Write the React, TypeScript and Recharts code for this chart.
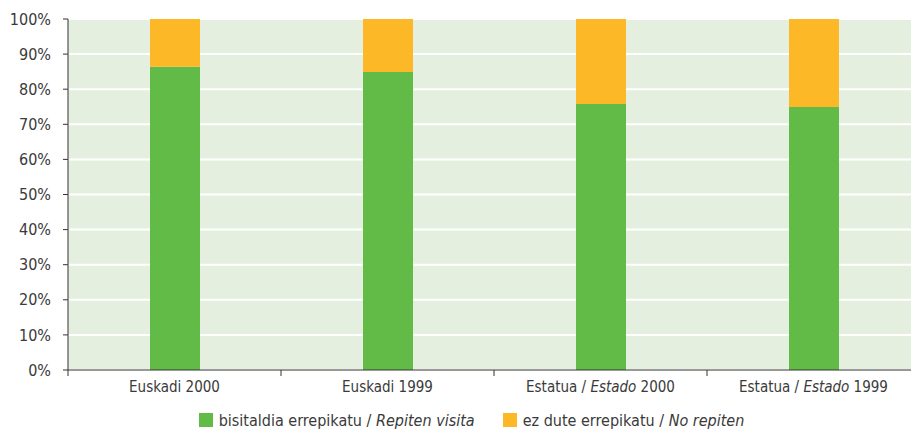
import React from "react";
import {
  BarChart,
  Bar,
  XAxis,
  YAxis,
  CartesianGrid,
  Legend,
} from "recharts";

const categories = [
  { basque: "Euskadi 2000" },
  { basque: "Euskadi 1999" },
  { basque: "Estatua / ", spanish: "Estado", year: "2000" },
  { basque: "Estatua / ", spanish: "Estado", year: "1999" },
];
const repeatVisit = [86.4, 84.9, 75.8, 74.9];
const noRepeat = [13.6, 15.1, 24.2, 25.1];
const yTicks = [0, 10, 20, 30, 40, 50, 60, 70, 80, 90, 100];

const data = categories.map((c, i) => ({
  name: i,
  repeat: repeatVisit[i],
  noRepeat: noRepeat[i],
}));

const FONT = '"DejaVu Sans Condensed", "Liberation Sans Narrow", sans-serif';
const TEXT = "#3a3a3a";
const GREEN = "#61bb46";
const ORANGE = "#fdb827";

const CHART_W = 930;
const CHART_H = 432;
const MARGIN = { top: 19, right: 10, bottom: 0, left: 0 };
const Y_W = 68;
const BAND_HALF = (CHART_W - MARGIN.left - MARGIN.right - Y_W) / categories.length / 2;

function CategoryTick(props: any) {
  const { x, y, payload, index } = props;
  const c = categories[payload.value] || categories[index];
  return (
    <g>
      <line x1={x - BAND_HALF} y1={y} x2={x - BAND_HALF} y2={y + 6} stroke="#333" />
      {index === categories.length - 1 && (
        <line x1={x + BAND_HALF} y1={y} x2={x + BAND_HALF} y2={y + 6} stroke="#333" />
      )}
      <text
        x={x}
        y={y + 11}
        dy="0.71em"
        textAnchor="middle"
        fill={TEXT}
        fontSize={15}
        fontFamily={FONT}
      >
        {c.basque}
        {c.spanish && <tspan fontStyle="italic">{c.spanish}</tspan>}
        {c.year && <tspan> {c.year}</tspan>}
      </text>
    </g>
  );
}

function LegendContent() {
  const items = [
    { color: GREEN, basque: "bisitaldia errepikatu / ", spanish: "Repiten visita" },
    { color: ORANGE, basque: "ez dute errepikatu / ", spanish: "No repiten" },
  ];
  return (
    <div
      style={{
        display: "flex",
        justifyContent: "center",
        alignItems: "center",
        gap: 28,
        height: 24,
        fontFamily: FONT,
        fontSize: 16,
        color: TEXT,
        paddingLeft: 23,
      }}
    >
      {items.map((it) => (
        <div key={it.basque} style={{ display: "flex", alignItems: "center" }}>
          <span
            style={{
              width: 14,
              height: 14,
              background: it.color,
              display: "inline-block",
              marginRight: 6,
            }}
          />
          <span>
            {it.basque}
            <i>{it.spanish}</i>
          </span>
        </div>
      ))}
    </div>
  );
}

export default function App() {
  return (
    <div
      style={{
        position: "absolute",
        left: 0,
        top: 0,
        width: 911,
        height: 432,
        overflow: "hidden",
        background: "#fff",
      }}
    >
      <BarChart width={CHART_W} height={CHART_H} data={data} margin={MARGIN}>
        <CartesianGrid
          vertical={false}
          stroke="#ffffff"
          strokeWidth={2}
          fill="#e5efdf"
          fillOpacity={1}
        />
        <XAxis
          dataKey="name"
          type="category"
          tick={<CategoryTick />}
          tickLine={false}
          tickSize={0}
          tickMargin={0}
          axisLine={{ stroke: "#333" }}
          height={38}
          interval={0}
        />
        <YAxis
          domain={[0, 100]}
          ticks={yTicks}
          tickFormatter={(v) => `${v}%`}
          width={Y_W}
          tickSize={5}
          tickMargin={12}
          axisLine={{ stroke: "#333" }}
          tickLine={{ stroke: "#333" }}
          tick={{ fill: TEXT, fontSize: 16, fontFamily: FONT }}
          interval={0}
        />
        <Legend verticalAlign="bottom" height={24} content={<LegendContent />} />
        <Bar dataKey="repeat" stackId="a" fill={GREEN} barSize={50} isAnimationActive={false} />
        <Bar dataKey="noRepeat" stackId="a" fill={ORANGE} barSize={50} isAnimationActive={false} />
      </BarChart>
    </div>
  );
}
